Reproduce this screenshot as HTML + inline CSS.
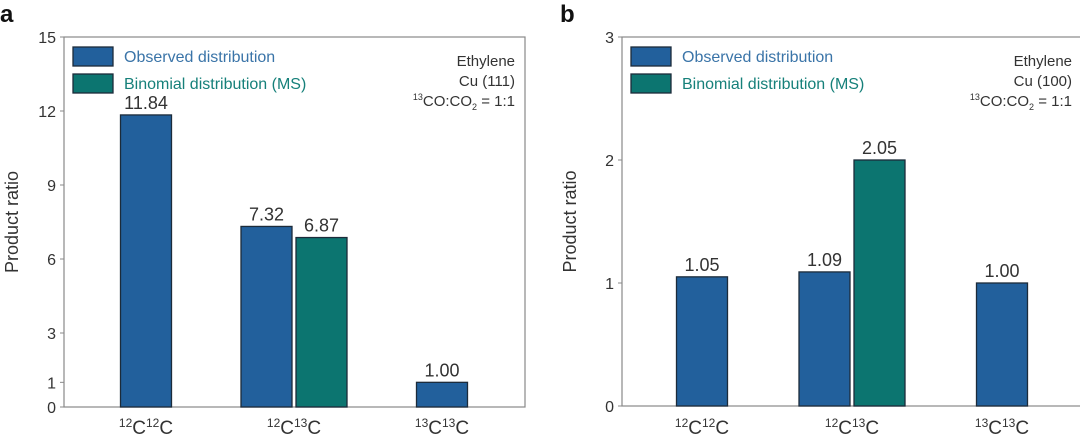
<!DOCTYPE html>
<html><head><meta charset="utf-8"><style>
body{margin:0;background:#fff;}
svg{display:block;font-family:"Liberation Sans",sans-serif;}
</style></head><body>
<svg id="c" width="1080" height="440"></svg>
<script>
const categories=["12C12C","12C13C","13C13C"];
const aObserved=[11.84,7.32,1.00];
const aBinomial=[null,6.87,null];
const bObserved=[1.05,1.09,1.00];
const bBinomial=[null,2.05,null];
const bBinomialDrawn=[null,2.0,null];
const aTicks=[0,1,3,6,9,12,15];
const bTicks=[0,1,2,3];
const BLUE="#22609c",TEAL="#0c7570";
const svg=document.getElementById('c');
const NS="http://www.w3.org/2000/svg";
function mk(t,a,parent){const e=document.createElementNS(NS,t);for(const k in a)e.setAttribute(k,a[k]);(parent||svg).appendChild(e);return e;}
function catLabel(g,x,y,cat){
  const t=mk('text',{x:x,y:y,'text-anchor':'middle','font-size':19,fill:'#333'},g);
  const p=[[cat.slice(0,2),true],["C",false],[cat.slice(3,5),true],["C",false]];
  p.forEach(([s,sup])=>{const ts=mk('tspan',{'font-size':sup?12:19,dy:sup?-7:7},t);ts.textContent=s;});
  
  
}
function panel(o){
  const g=mk('g',{});
  
  
  const y=v=>o.y0-(v/o.max)*(o.y0-o.y1);
  const L=mk('text',{x:o.lx,y:22,'font-size':24,'font-weight':'bold',fill:'#111'},g);L.textContent=o.letter;
  
  mk('rect',{x:o.x0,y:o.y1,width:o.x1-o.x0,height:o.y0-o.y1,fill:'none',stroke:'#888','stroke-width':1.2},g);
  o.ticks.forEach(t=>{
    mk('line',{x1:o.x0-4,x2:o.x0,y1:y(t),y2:y(t),stroke:'#888'},g);
    const tx=mk('text',{x:o.x0-8,y:y(t)+6,'text-anchor':'end','font-size':16,fill:'#333'},g);tx.textContent=t;
    
  });
  const yt=mk('text',{transform:`translate(${o.tx},${(o.y0+o.y1)/2}) rotate(-90)`,'text-anchor':'middle','font-size':18,fill:'#333'},g);
  yt.textContent='Product ratio';
  const bw=51;
  categories.forEach((c,i)=>{
    const cx=o.cx[i];
    const hasB=o.bin[i]!=null;
    const xo=hasB?cx-bw-2:cx-bw/2;
    const r=mk('rect',{x:xo,y:y(o.obs[i]),width:bw,height:o.y0-y(o.obs[i]),fill:BLUE,stroke:'#1c2b3a','stroke-width':1.3},g);
    
    const lt=mk('text',{x:xo+bw/2,y:y(o.obs[i])-6,'text-anchor':'middle','font-size':18,fill:'#333'},g);
    lt.textContent=o.obs[i].toFixed(2);
    if(hasB){
      const v=o.binDrawn[i];
      const r2=mk('rect',{x:cx+2,y:y(v),width:bw,height:o.y0-y(v),fill:TEAL,stroke:'#1c2b3a','stroke-width':1.3},g);
      
      const l2=mk('text',{x:cx+2+bw/2,y:y(v)-6,'text-anchor':'middle','font-size':18,fill:'#333'},g);
      l2.textContent=o.bin[i].toFixed(2);
    }
    catLabel(g,cx,434,c);
  });
  [[BLUE,'#3a74a8','Observed distribution',47],[TEAL,'#16807a','Binomial distribution (MS)',74]].forEach(([f,tc,s,yy])=>{
    const b=mk('rect',{x:o.x0+9,y:yy,width:40,height:19,fill:f,stroke:'#1c2b3a','stroke-width':1.3},g);
    
    const t=mk('text',{x:o.x0+60,y:yy+15,'font-size':16,fill:tc},g);t.textContent=s;
    
  });
  const ax=o.ax;
  const a1=mk('text',{x:ax,y:66,'text-anchor':'end','font-size':15,fill:'#333'},g);a1.textContent='Ethylene';
  const a2=mk('text',{x:ax,y:86,'text-anchor':'end','font-size':15,fill:'#333'},g);a2.textContent=o.cu;
  const a3=mk('text',{x:ax,y:106,'text-anchor':'end','font-size':15,fill:'#333'},g);
  a3.innerHTML='<tspan font-size="9" dy="-6">13</tspan><tspan dy="6">CO:CO</tspan><tspan font-size="9" dy="4">2</tspan><tspan dy="-4"> = 1:1</tspan>';
  [a1,a2,a3].forEach(a=>{});
}
panel({letter:'a',lx:0,x0:64,x1:525,y0:407,y1:37,max:15,ticks:aTicks,tx:18,cx:[146,294,442],obs:aObserved,bin:aBinomial,binDrawn:aBinomial,ax:515,cu:'Cu (111)'});
panel({letter:'b',lx:560,x0:622,x1:1082,y0:406,y1:37,max:3,ticks:bTicks,tx:576,cx:[702,852,1002],obs:bObserved,bin:bBinomial,binDrawn:bBinomialDrawn,ax:1072,cu:'Cu (100)'});
</script>
</body></html>
